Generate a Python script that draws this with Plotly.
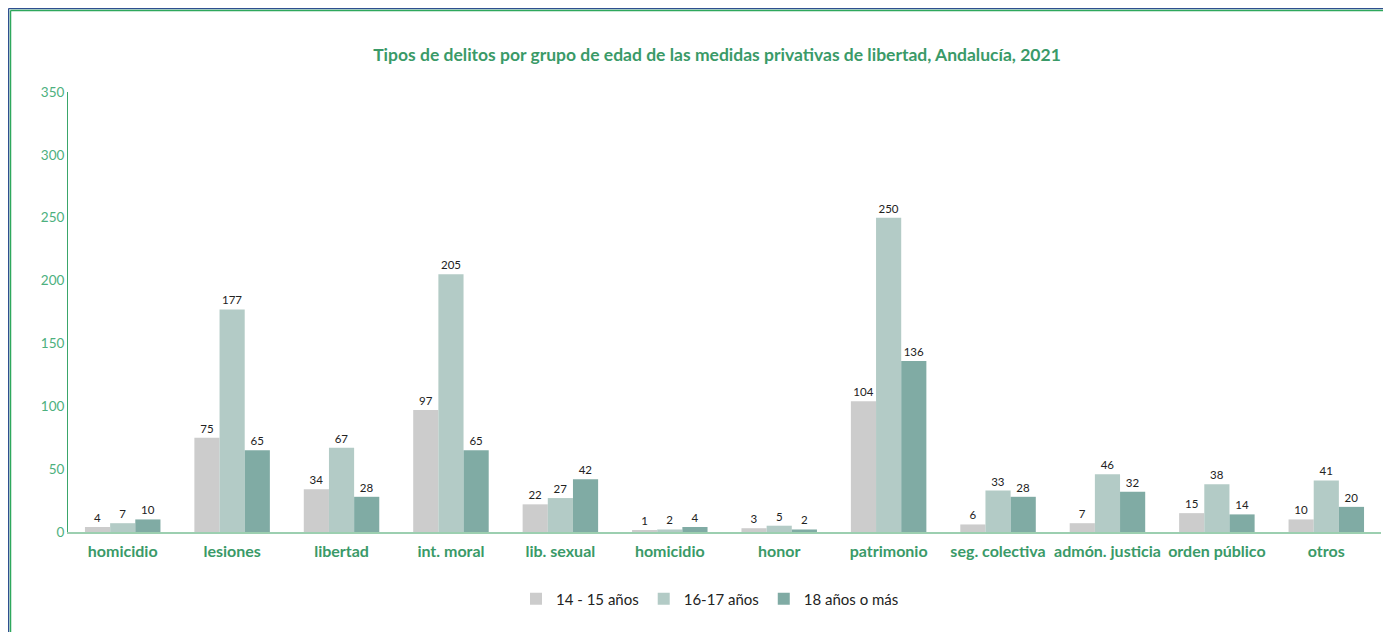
import plotly.graph_objects as go

categories = ["homicidio", "lesiones", "libertad", "int. moral", "lib. sexual", "homicidio",
              "honor", "patrimonio", "seg. colectiva", "admón. justicia", "orden público", "otros"]
series_names = ["14 - 15 años", "16-17 años", "18 años o más"]
v_14_15 = [4, 75, 34, 97, 22, 1, 3, 104, 6, 7, 15, 10]
v_16_17 = [7, 177, 67, 205, 27, 2, 5, 250, 33, 46, 38, 41]
v_18 = [10, 65, 28, 65, 42, 4, 2, 136, 28, 32, 14, 20]
colors = ["#CCCCCC", "#B3CBC6", "#80ABA4"]
y_ticks = [0, 50, 100, 150, 200, 250, 300, 350]

FONT = "Lato, 'Open Sans', sans-serif"
GREEN = "#3A9A68"
positions = list(range(len(categories)))

fig = go.Figure()
for name, vals, col in zip(series_names, [v_14_15, v_16_17, v_18], colors):
    fig.add_trace(go.Bar(
        x=positions, y=vals, name=name, marker=dict(color=col, line=dict(width=0)),
        text=[str(v) for v in vals], textposition="outside",
        textfont=dict(family=FONT, size=11.5, color="#222222"),
        cliponaxis=False,
    ))

# page body has an 8px margin; work in page pixels and convert
OFF = 8
W, H = 1391 - OFF, 632 - OFF
ml, mr, mt, mb = 68 - OFF, 10, 92 - OFF, 100
pw, ph = W - ml - mr, H - mt - mb

def px_x(p):
    return (p - OFF - ml) / pw

def px_y(p):
    return (H - mb - (p - OFF)) / ph

shapes = [
    dict(type="line", xref="paper", yref="paper", x0=px_x(8.5), x1=px_x(8.5), y0=px_y(8.5), y1=px_y(640),
         line=dict(color="#2F4F8F", width=1.5)),
    dict(type="line", xref="paper", yref="paper", x0=px_x(10.5), x1=px_x(10.5), y0=px_y(10.5), y1=px_y(640),
         line=dict(color="#2EA85C", width=1.5)),
    dict(type="line", xref="paper", yref="paper", x0=px_x(8.5), x1=px_x(1400), y0=px_y(8.5), y1=px_y(8.5),
         line=dict(color="#2F4F8F", width=1.5)),
    dict(type="line", xref="paper", yref="paper", x0=px_x(10.5), x1=px_x(1400), y0=px_y(10.5), y1=px_y(10.5),
         line=dict(color="#2EA85C", width=1.5)),
]

fig.update_layout(
    width=W, height=H,
    margin=dict(l=ml, r=mr, t=mt, b=mb, autoexpand=False),
    paper_bgcolor="white", plot_bgcolor="white",
    barmode="group", bargap=0.31, bargroupgap=0.0,
    title=dict(text="<b>Tipos de delitos por grupo de edad de las medidas privativas de libertad, Andalucía, 2021</b>",
               x=(717 - OFF) / W, xanchor="center", y=1 - (55 - OFF) / H, yanchor="middle",
               font=dict(family=FONT, size=17.5, color=GREEN)),
    font=dict(family=FONT),
    xaxis=dict(tickmode="array", tickvals=positions, ticktext=[f"<b>{c}</b>" for c in categories],
               range=[-0.5, len(categories) - 0.5], showgrid=False, zeroline=False,
               showline=True, linecolor="#9CCFB0", linewidth=2, ticks="", ticklabelstandoff=4,
               tickfont=dict(family=FONT, size=16, color=GREEN)),
    yaxis=dict(range=[0, 350], tickvals=y_ticks, showgrid=False, zeroline=False,
               showline=True, linecolor="#3AA66A", linewidth=1, ticks="",
               tickfont=dict(family=FONT, size=13.5, color="#4DB07E")),
    legend=dict(orientation="h", x=px_x(710), xanchor="center", y=px_y(599), yanchor="middle",
                itemwidth=30, font=dict(family=FONT, size=15, color="#222222"), traceorder="normal"),
    shapes=shapes,
)

fig.write_html("out.html")
